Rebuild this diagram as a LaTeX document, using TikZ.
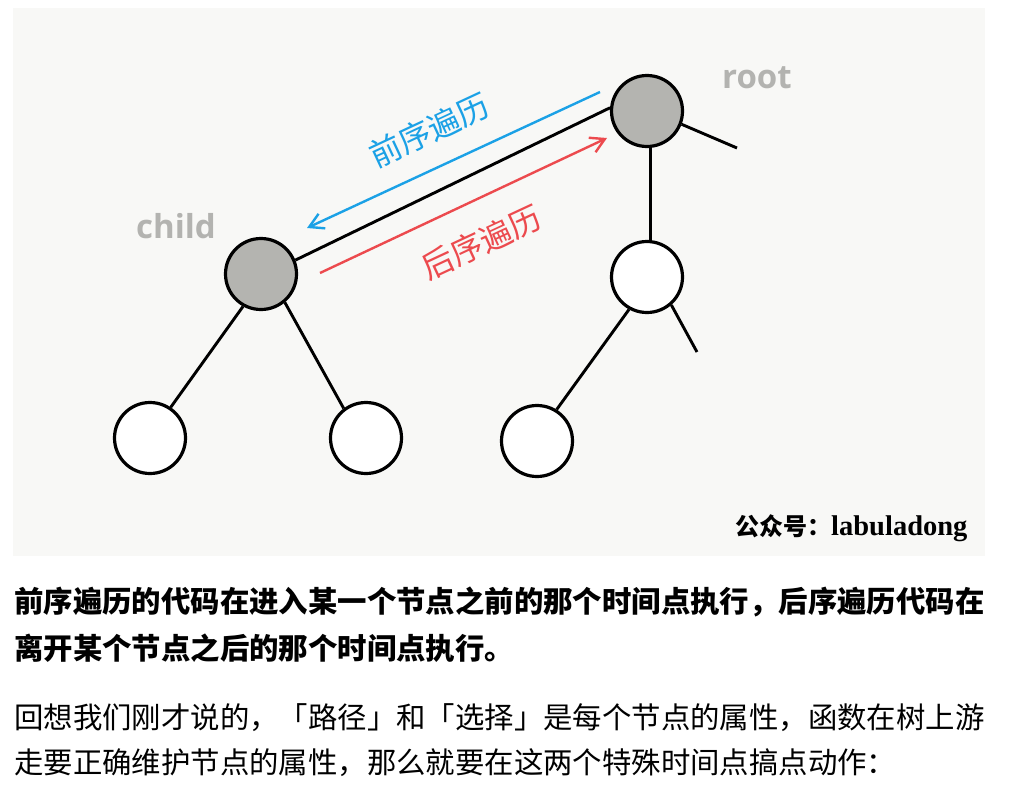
\documentclass[tikz,border=0pt]{standalone}
\usepackage{fontspec}
\usepackage{tikz}
\usetikzlibrary{arrows.meta}
\newfontfamily\cjk{Noto Sans CJK SC}
\newfontfamily\labelfont{Open Sans}
\newfontfamily\wmfont{Liberation Serif}
\definecolor{panelbg}{HTML}{F8F8F6}
\definecolor{nodegray}{HTML}{B4B4B0}
\definecolor{labelgray}{HTML}{B3B3B0}
\definecolor{preblue}{HTML}{1BA1E6}
\definecolor{postred}{HTML}{EC4A4E}

\begin{document}
\begin{tikzpicture}[x=1pt,y=-1pt,
  tnode/.style={circle,draw,line width=3.2pt,minimum size=71pt,inner sep=0pt,fill=white},
  gnode/.style={tnode,fill=nodegray},
  edge/.style={line width=2.9pt},
  walk/.style={line width=2.4pt,-{Straight Barb[length=14pt,width=16pt]}},
  tag/.style={text=labelgray,font=\labelfont\bfseries\fontsize{33}{33}\selectfont,inner sep=0pt,anchor=base west},
  walktext/.style={rotate=25,inner sep=0pt,font=\cjk\fontsize{32}{32}\selectfont},
  body/.style={anchor=west,inner sep=0pt,font=\cjk\fontsize{29.4}{29.4}\selectfont}]
   \useasboundingbox (0,0) rectangle (1024,790);
   \fill[white] (0,0) rectangle (1024,790);
   \fill[panelbg] (13,8) rectangle (985,556);

   \node[gnode] (root) at (647,111) {};
   \node[gnode] (child) at (261,274) {};
   \node[tnode] (mid) at (647,277) {};
   \node[tnode] (ll) at (150,438) {};
   \node[tnode] (lr) at (366,438) {};
   \node[tnode] (ml) at (537,441) {};
   \coordinate (rr) at (737,148);
   \coordinate (mr) at (697,352);

   \draw[edge] (child.22) -- (root.175);
   \draw[edge] (root.-21) -- (rr);
   \draw[edge] (root.-85) -- (mid.85);
   \draw[edge] (child.-119) -- (ll.56);
   \draw[edge] (child.-50) -- (lr.127);
   \draw[edge] (mid.-119) -- (ml.58);
   \draw[edge] (mid.-49) -- (mr);

   \coordinate (pres) at (600,92);
   \coordinate (pree) at (307,228);
   \coordinate (posts) at (320,273);
   \coordinate (poste) at (607,138);
   \draw[walk,preblue] (pres) -- (pree);
   \draw[walk,postred] (posts) -- (poste);
   \node[walktext,text=preblue] (pre) at (429,130) {前序遍历};
   \node[walktext,text=postred] (post) at (481,242) {后序遍历};

   \node[tag] (childtag) at (136,238) {child};
   \node[tag] (roottag) at (722,88) {root};
   \node[anchor=base west,inner sep=0pt] (wm) at (735,535)
     {\cjk\bfseries\fontsize{24}{24}\selectfont 公众号：\wmfont\bfseries\fontsize{28.5}{28.5}\selectfont labuladong};

   \node[body,font=\cjk\bfseries\fontsize{29.4}{29.4}\selectfont] (p1) at (14,602) {前序遍历的代码在进入某一个节点之前的那个时间点执行，后序遍历代码在};
   \node[body,font=\cjk\bfseries\fontsize{29.4}{29.4}\selectfont] (p2) at (14,648) {离开某个节点之后的那个时间点执行。};
   \node[body] (p3) at (14,718) {回想我们刚才说的，「路径」和「选择」是每个节点的属性，函数在树上游};
   \node[body] (p4) at (14,763) {走要正确维护节点的属性，那么就要在这两个特殊时间点搞点动作：};
\end{tikzpicture}
\end{document}
